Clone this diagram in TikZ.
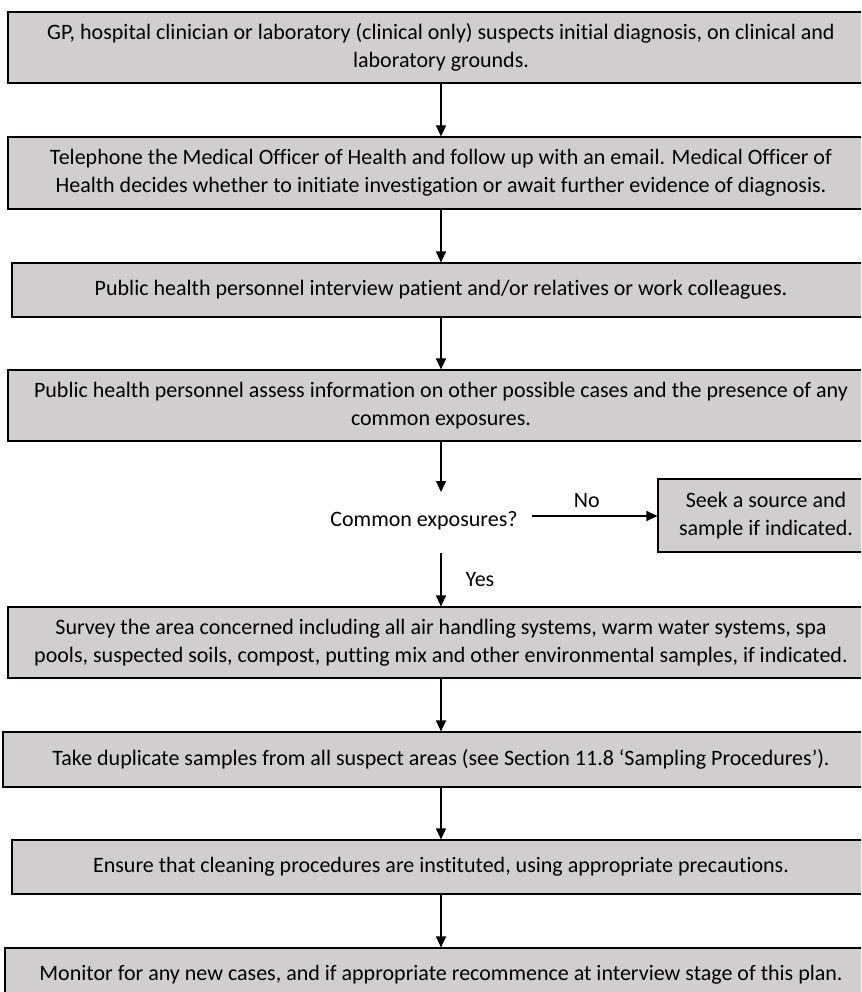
\documentclass[tikz,border=0pt]{standalone}
\usepackage{fontspec}
\setmainfont{Carlito}[Ligatures=NoCommon]
\usetikzlibrary{arrows.meta}
\definecolor{boxgray}{HTML}{D0CECE}
\begin{document}
\begin{tikzpicture}[x=1pt,y=-1pt,
  stepbox/.style={draw=black, line width=1.2pt, fill=boxgray, inner sep=0pt, align=center,
    font=\fontsize{22}{27.5}\selectfont},
  conn/.style={line width=1.2pt, -{Triangle[width=10pt,length=11pt]}},
  lbl/.style={font=\fontsize{22}{27.5}\selectfont, inner sep=0pt}]
\useasboundingbox (0,0) rectangle (861,992);
\clip (0,0) rectangle (861,992);
\node[stepbox, minimum width=866pt, minimum height=71pt] (b1) at (441,47.5)
  {GP, hospital clinician or laboratory (clinical only) suspects initial diagnosis, on clinical and\\laboratory grounds.};
\node[stepbox, minimum width=866pt, minimum height=72pt] (b2) at (441,173)
  {Telephone the Medical Officer of Health and follow up with an email. Medical Officer of\\Health decides whether to initiate investigation or await further evidence of diagnosis.};
\node[stepbox, minimum width=858pt, minimum height=54pt] (b3) at (441,290)
  {Public health personnel interview patient and/or relatives or work colleagues.};
\node[stepbox, minimum width=866pt, minimum height=71pt] (b4) at (441,405.5)
  {Public health personnel assess information on other possible cases and the presence of any\\common exposures.};
\node[lbl] (q) at (424,521) {Common exposures?};
\node[stepbox, minimum width=216pt, minimum height=73pt] (s) at (766,515.5)
  {Seek a source and\\sample if indicated.};
\node[stepbox, minimum width=866pt, minimum height=71pt] (b5) at (441,642.5)
  {Survey the area concerned including all air handling systems, warm water systems, spa\\pools, suspected soils, compost, putting mix and other environmental samples, if indicated.};
\node[stepbox, minimum width=876pt, minimum height=55pt] (b6) at (441,759.5)
  {Take duplicate samples from all suspect areas (see Section 11.8 ‘Sampling Procedures’).};
\node[stepbox, minimum width=858pt, minimum height=54pt] (b7) at (441,867)
  {Ensure that cleaning procedures are instituted, using appropriate precautions.};
\node[stepbox, minimum width=872pt, minimum height=54pt] (b8) at (441,975)
  {Monitor for any new cases, and if appropriate recommence at interview stage of this plan.};
\coordinate (qtop) at (441,492);
\coordinate (qbot) at (441,553);
\coordinate (qr) at (532,516);
\draw[conn] (b1.south -| qtop) -- (b2.north -| qtop);
\draw[conn] (b2.south -| qtop) -- (b3.north -| qtop);
\draw[conn] (b3.south -| qtop) -- (b4.north -| qtop);
\draw[conn] (b4.south -| qtop) -- (qtop);
\draw[conn] (qr) -- node[lbl, above=8pt, xshift=-8pt] {No} (s.west |- qr);
\draw[conn] (qbot) -- node[lbl, right=24pt] {Yes} (b5.north -| qbot);
\draw[conn] (b5.south -| qtop) -- (b6.north -| qtop);
\draw[conn] (b6.south -| qtop) -- (b7.north -| qtop);
\draw[conn] (b7.south -| qtop) -- (b8.north -| qtop);
\end{tikzpicture}
\end{document}
